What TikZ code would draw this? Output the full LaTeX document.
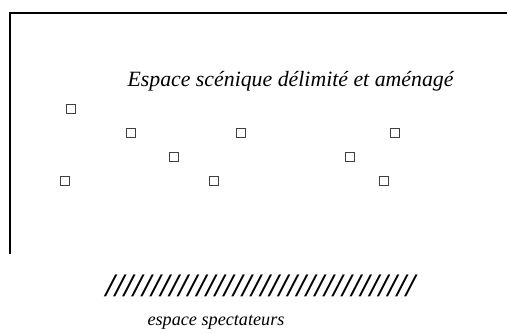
\documentclass[tikz,border=0pt]{standalone}
\usepackage{fontspec}
\setmainfont{Liberation Serif}

\tikzset{
	seat/.style={draw=black!75, line width=0.5pt, minimum size=5pt, inner sep=0pt},
	label/.style={anchor=base, font=\itshape}
}

\begin{document}
\begin{tikzpicture}[x=0.55pt,y=-0.55pt]
		\useasboundingbox (0,0) rectangle (507,333);

		% limites de la scene
		\coordinate (tr) at (507,13);
		\coordinate (tl) at (10,13);
		\coordinate (bl) at (10,254);
		\draw[line width=1.4pt, line join=miter] (tr) -- (tl) -- (bl);

		\node[label] (scene) at (290.5,86) {\fontsize{12}{14}\selectfont Espace scénique délimité et aménagé};

		% places
		\node[seat] (s1) at (71,109) {};
		\node[seat] (s2) at (131,133) {};
		\node[seat] (s3) at (241,133) {};
		\node[seat] (s4) at (395,133) {};
		\node[seat] (s5) at (174,157) {};
		\node[seat] (s6) at (350,157) {};
		\node[seat] (s7) at (65,181) {};
		\node[seat] (s8) at (214,181) {};
		\node[seat] (s9) at (384,181) {};

		% public
		\node (rampe) at (260.5,286) {\fontsize{18}{20}\selectfont\bfseries\itshape //////////////////////////////////};
		\node[label] (public) at (216,325) {\fontsize{10}{12}\selectfont espace spectateurs};

\end{tikzpicture}
\end{document}
